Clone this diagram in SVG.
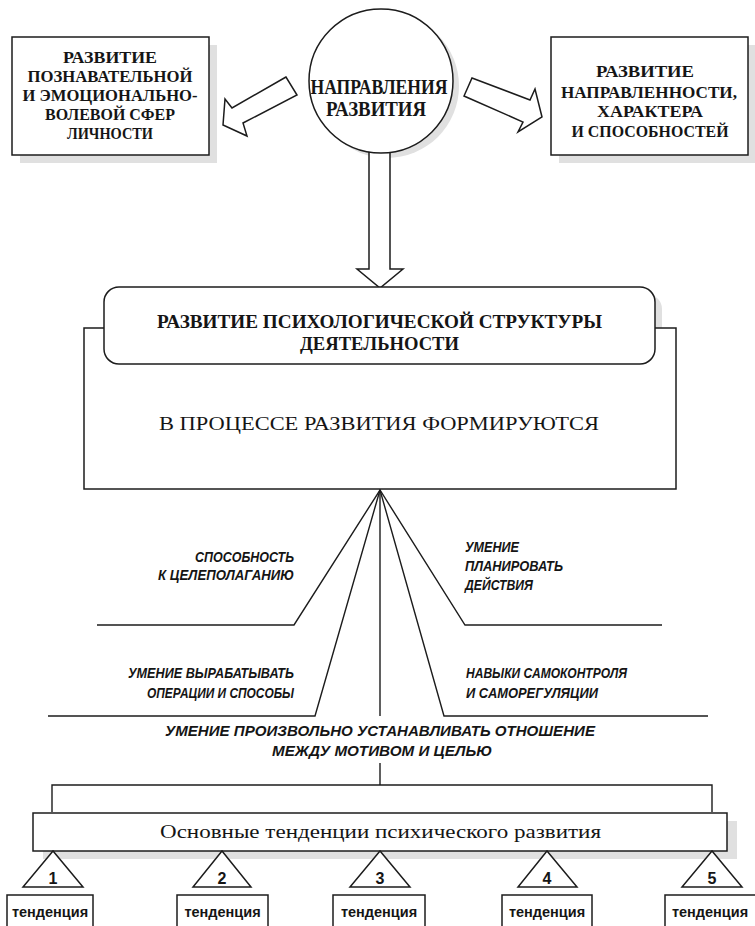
<svg xmlns="http://www.w3.org/2000/svg" width="755" height="926" viewBox="0 0 755 926">
<style>
.ln{stroke:#1c1c1c;stroke-width:1.4;fill:none}
.box{fill:#fff;stroke:#1c1c1c;stroke-width:1.5}
.sh{fill:#e0e0e0}
.bs{font-family:"Liberation Serif","Times New Roman",serif;font-weight:bold;fill:#151515;text-anchor:middle}
.rs{font-family:"Liberation Serif","Times New Roman",serif;fill:#151515}
.it{font-family:"Liberation Sans",Arial,sans-serif;font-weight:bold;font-style:italic;font-size:15px;fill:#151515}
.sn{font-family:"Liberation Sans",Arial,sans-serif;font-weight:bold;fill:#151515;text-anchor:middle}
</style>
<rect width="755" height="926" fill="#fff"/>
<g id="shadows">
<rect class="sh" x="20" y="45" width="197" height="118"/>
<rect class="sh" x="559" y="45" width="197" height="118"/>
<circle class="sh" cx="387" cy="86" r="72"/>
<rect class="sh" x="111" y="294" width="551" height="77" rx="15"/>
<rect class="sh" x="43" y="821" width="694" height="38"/>
</g>
<g id="connectors">
<polygon class="box" points="286,77 232,108 225,99 223,125 247,136 243,123 297,95"/>
<polygon class="box" points="472,78 530,100 535,89 542,117 518,132 523,122 464,96"/>
<polygon class="box" points="369,140 369,269 357,269 380,288 403,269 390,269 390,140"/>
<polyline class="ln" points="97,625 294,625 380,490 465,625 662,625"/>
<polyline class="ln" points="48,716 315,716 380,490 444,716 708,716"/>
<line class="ln" x1="380" y1="490" x2="380" y2="716"/>
<polyline class="ln" points="52,812 52,785 712,785 712,812"/>
<line class="ln" x1="380" y1="763" x2="380" y2="785"/>
<g id="labels">
<text class="it" x="195" y="562" textLength="99" lengthAdjust="spacingAndGlyphs">СПОСОБНОСТЬ</text>
<text class="it" x="158" y="580" textLength="136" lengthAdjust="spacingAndGlyphs">К ЦЕЛЕПОЛАГАНИЮ</text>
<text class="it" x="465" y="552" textLength="54" lengthAdjust="spacingAndGlyphs">УМЕНИЕ</text>
<text class="it" x="465" y="571" textLength="98" lengthAdjust="spacingAndGlyphs">ПЛАНИРОВАТЬ</text>
<text class="it" x="465" y="590" textLength="68" lengthAdjust="spacingAndGlyphs">ДЕЙСТВИЯ</text>
<text class="it" x="128" y="678" textLength="166" lengthAdjust="spacingAndGlyphs">УМЕНИЕ ВЫРАБАТЫВАТЬ</text>
<text class="it" x="147" y="698" textLength="147" lengthAdjust="spacingAndGlyphs">ОПЕРАЦИИ И СПОСОБЫ</text>
<text class="it" x="466" y="678" textLength="161" lengthAdjust="spacingAndGlyphs">НАВЫКИ САМОКОНТРОЛЯ</text>
<text class="it" x="466" y="698" textLength="132" lengthAdjust="spacingAndGlyphs">И САМОРЕГУЛЯЦИИ</text>
<text class="it" x="165" y="736" textLength="430" lengthAdjust="spacingAndGlyphs">УМЕНИЕ ПРОИЗВОЛЬНО УСТАНАВЛИВАТЬ ОТНОШЕНИЕ</text>
<text class="it" x="272" y="756" textLength="220" lengthAdjust="spacingAndGlyphs">МЕЖДУ МОТИВОМ И ЦЕЛЬЮ</text>
</g>
</g>
<g id="node-left">
<rect class="box" x="12" y="37" width="197" height="118"/>
<text class="bs" font-size="17" x="110" y="63" textLength="94" lengthAdjust="spacingAndGlyphs">РАЗВИТИЕ</text>
<text class="bs" font-size="17" x="110" y="82" textLength="165" lengthAdjust="spacingAndGlyphs">ПОЗНАВАТЕЛЬНОЙ</text>
<text class="bs" font-size="17" x="110" y="101" textLength="175" lengthAdjust="spacingAndGlyphs">И ЭМОЦИОНАЛЬНО-</text>
<text class="bs" font-size="17" x="110" y="120" textLength="130" lengthAdjust="spacingAndGlyphs">ВОЛЕВОЙ СФЕР</text>
<text class="bs" font-size="17" x="110" y="139" textLength="86" lengthAdjust="spacingAndGlyphs">ЛИЧНОСТИ</text>
</g>
<g id="node-center">
<circle class="box" cx="381" cy="81" r="72"/>
<text class="bs" font-size="21" x="379" y="94" textLength="137" lengthAdjust="spacingAndGlyphs">НАПРАВЛЕНИЯ</text>
<text class="bs" font-size="21" x="376" y="116" textLength="100" lengthAdjust="spacingAndGlyphs">РАЗВИТИЯ</text>
</g>
<g id="node-right">
<rect class="box" x="551" y="37" width="197" height="118"/>
<text class="bs" font-size="17" x="645" y="77" textLength="98" lengthAdjust="spacingAndGlyphs">РАЗВИТИЕ</text>
<text class="bs" font-size="17" x="649" y="98" textLength="176" lengthAdjust="spacingAndGlyphs">НАПРАВЛЕННОСТИ,</text>
<text class="bs" font-size="17" x="650" y="117" textLength="106" lengthAdjust="spacingAndGlyphs">ХАРАКТЕРА</text>
<text class="bs" font-size="17" x="650" y="137" textLength="157" lengthAdjust="spacingAndGlyphs">И СПОСОБНОСТЕЙ</text>
</g>
<g id="node-process">
<rect class="box" x="84" y="328" width="592" height="161"/>
<text class="rs" font-size="19.5" x="159" y="430" textLength="440" lengthAdjust="spacingAndGlyphs">В ПРОЦЕССЕ РАЗВИТИЯ ФОРМИРУЮТСЯ</text>
</g>
<g id="node-structure">
<rect class="box" x="104" y="287" width="551" height="77" rx="15"/>
<text class="bs" font-size="19" x="379.5" y="328" textLength="445" lengthAdjust="spacingAndGlyphs">РАЗВИТИЕ ПСИХОЛОГИЧЕСКОЙ СТРУКТУРЫ</text>
<text class="bs" font-size="19" x="379.5" y="350" textLength="159" lengthAdjust="spacingAndGlyphs">ДЕЯТЕЛЬНОСТИ</text>
</g>
<g id="node-tendencies">
<rect class="box" x="33" y="813" width="694" height="38"/>
<text class="rs" font-size="19" x="160" y="838" textLength="441" lengthAdjust="spacingAndGlyphs">Основные тенденции психического развития</text>
</g>
<g id="node-t1">
<polygon class="box" points="53,851 23,887 83,887"/>
<text class="sn" font-size="16" x="53" y="884">1</text>
<rect class="box" x="7" y="895" width="86" height="40"/>
<text class="sn" font-size="14.5" x="50" y="917">тенденция</text>
</g>
<g id="node-t2">
<polygon class="box" points="222,851 193,887 251,887"/>
<text class="sn" font-size="16" x="222" y="884">2</text>
<rect class="box" x="177" y="895" width="91" height="40"/>
<text class="sn" font-size="14.5" x="222.5" y="917">тенденция</text>
</g>
<g id="node-t3">
<polygon class="box" points="380,851 350,887 410,887"/>
<text class="sn" font-size="16" x="380" y="884">3</text>
<rect class="box" x="333" y="895" width="92" height="40"/>
<text class="sn" font-size="14.5" x="379" y="917">тенденция</text>
</g>
<g id="node-t4">
<polygon class="box" points="547,851 518,887 577,887"/>
<text class="sn" font-size="16" x="547" y="884">4</text>
<rect class="box" x="502" y="895" width="90" height="40"/>
<text class="sn" font-size="14.5" x="547" y="917">тенденция</text>
</g>
<g id="node-t5">
<polygon class="box" points="712,851 682,887 742,887"/>
<text class="sn" font-size="16" x="712" y="884">5</text>
<rect class="box" x="665" y="895" width="95" height="40"/>
<text class="sn" font-size="14.5" x="710" y="917">тенденция</text>
</g>
</svg>
